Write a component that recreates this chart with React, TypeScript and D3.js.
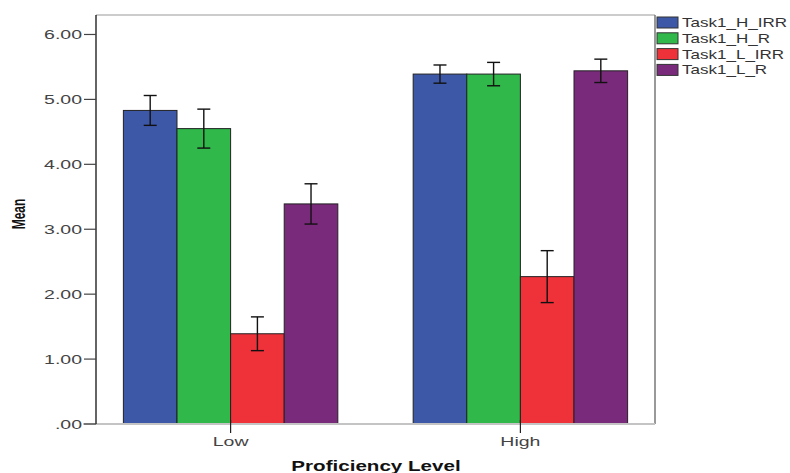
import React from 'react'
import * as d3 from 'd3'

// group means and error half-widths
const groups = ['Low', 'High']
const seriesNames = ['Task1_H_IRR', 'Task1_H_R', 'Task1_L_IRR', 'Task1_L_R']
const seriesColors = ['#3e58a8', '#30b84a', '#ef313a', '#7a2a7b']
const lowMeans = [4.83, 4.55, 1.39, 3.39]
const highMeans = [5.39, 5.39, 2.27, 5.44]
const lowErr = [0.23, 0.3, 0.26, 0.31]
const highErr = [0.14, 0.18, 0.4, 0.18]
const yTicks = [0, 1, 2, 3, 4, 5, 6]

const W = 790
const H = 473
const margin = { top: 15, right: 135, bottom: 49, left: 96 }
const SX = 1.5 // source image is stretched horizontally

function SText({ x, y, anchor = 'start', sx = SX, children, ...rest }: any) {
  return (
    <text transform={`translate(${x},${y}) scale(${sx},1)`} textAnchor={anchor} {...rest}>
      {children}
    </text>
  )
}

export default function App() {
  const rows = groups.map((g, i) => ({
    group: g,
    means: i === 0 ? lowMeans : highMeans,
    errs: i === 0 ? lowErr : highErr,
  }))

  const x0 = d3
    .scalePoint<string>()
    .domain(groups)
    .range([margin.left, W - margin.right])
    .padding(0.4645)
  const groupWidth = x0.step() * 0.74
  const x1 = d3
    .scaleBand<string>()
    .domain(seriesNames)
    .range([-groupWidth / 2, groupWidth / 2])
    .padding(0)
  const y = d3
    .scaleLinear()
    .domain([0, 6.3])
    .range([H - margin.bottom, margin.top])

  const color = d3.scaleOrdinal<string, string>().domain(seriesNames).range(seriesColors)
  const left = margin.left
  const right = W - margin.right
  const bottom = y(0)
  const top = y(6.3)
  const capW = 13

  return (
    <svg
      width={W}
      height={H}
      style={{ position: 'absolute', left: 0, top: 0, background: '#fff' }}
      fontFamily="Liberation Sans, Arial, sans-serif"
    >
      {/* frame */}
      <line x1={left} x2={right} y1={top} y2={top} stroke="#999" strokeWidth={1.2} />
      <line x1={right} x2={right} y1={top} y2={bottom} stroke="#777" strokeWidth={1.5} />

      {/* bars */}
      {rows.map((r) => (
        <g key={r.group} transform={`translate(${x0(r.group)},0)`}>
          {seriesNames.map((s, i) => (
            <rect
              key={s}
              x={x1(s)}
              y={y(r.means[i])}
              width={x1.bandwidth()}
              height={bottom - y(r.means[i])}
              fill={color(s)}
              stroke="#222"
              strokeWidth={1}
            />
          ))}
          {seriesNames.map((s, i) => {
            const cx = (x1(s) as number) + x1.bandwidth() / 2
            const hi = y(r.means[i] + r.errs[i])
            const lo = y(r.means[i] - r.errs[i])
            return (
              <g key={s} stroke="#111" strokeWidth={1.4}>
                <line x1={cx} x2={cx} y1={hi} y2={lo} />
                <line x1={cx - capW / 2} x2={cx + capW / 2} y1={hi} y2={hi} />
                <line x1={cx - capW / 2} x2={cx + capW / 2} y1={lo} y2={lo} />
              </g>
            )
          })}
        </g>
      ))}

      {/* x axis */}
      <line x1={83} x2={right} y1={bottom} y2={bottom} stroke="#c4c4c4" strokeWidth={2} />
      {groups.map((g) => (
        <g key={g}>
          <line x1={x0(g)} x2={x0(g)} y1={bottom - 4} y2={bottom + 9} stroke="#222" strokeWidth={1.2} />
          <SText x={x0(g)} y={446} anchor="middle" fontSize={13} fill="#444">
            {g}
          </SText>
        </g>
      ))}
      <SText x={376} y={471} anchor="middle" fontSize={14.5} fontWeight="bold" fill="#111" sx={1.42}>
        Proficiency Level
      </SText>

      {/* y axis */}
      <line x1={left} x2={left} y1={top} y2={bottom} stroke="#111" strokeWidth={1.3} />
      {yTicks.map((t) => (
        <g key={t}>
          <line x1={84} x2={left} y1={y(t)} y2={y(t)} stroke="#444" strokeWidth={1.2} />
          <SText x={82} y={y(t) + 4.5} anchor="end" fontSize={13} fill="#444">
            {t === 0 ? '.00' : t.toFixed(2)}
          </SText>
        </g>
      ))}
      <text
        transform={`translate(24.5,214) scale(1.5,1) rotate(-90)`}
        textAnchor="middle"
        fontSize={12}
        fontWeight="bold"
        fill="#111"
      >
        Mean
      </text>

      {/* legend */}
      {seriesNames.map((s, i) => (
        <g key={s} transform={`translate(657,${17 + i * 15.8})`}>
          <rect x={0} y={0} width={21} height={11} fill={color(s)} stroke="#333" strokeWidth={1} />
          <SText x={25} y={10} fontSize={12} fill="#333" sx={1.42}>
            {s}
          </SText>
        </g>
      ))}
    </svg>
  )
}
